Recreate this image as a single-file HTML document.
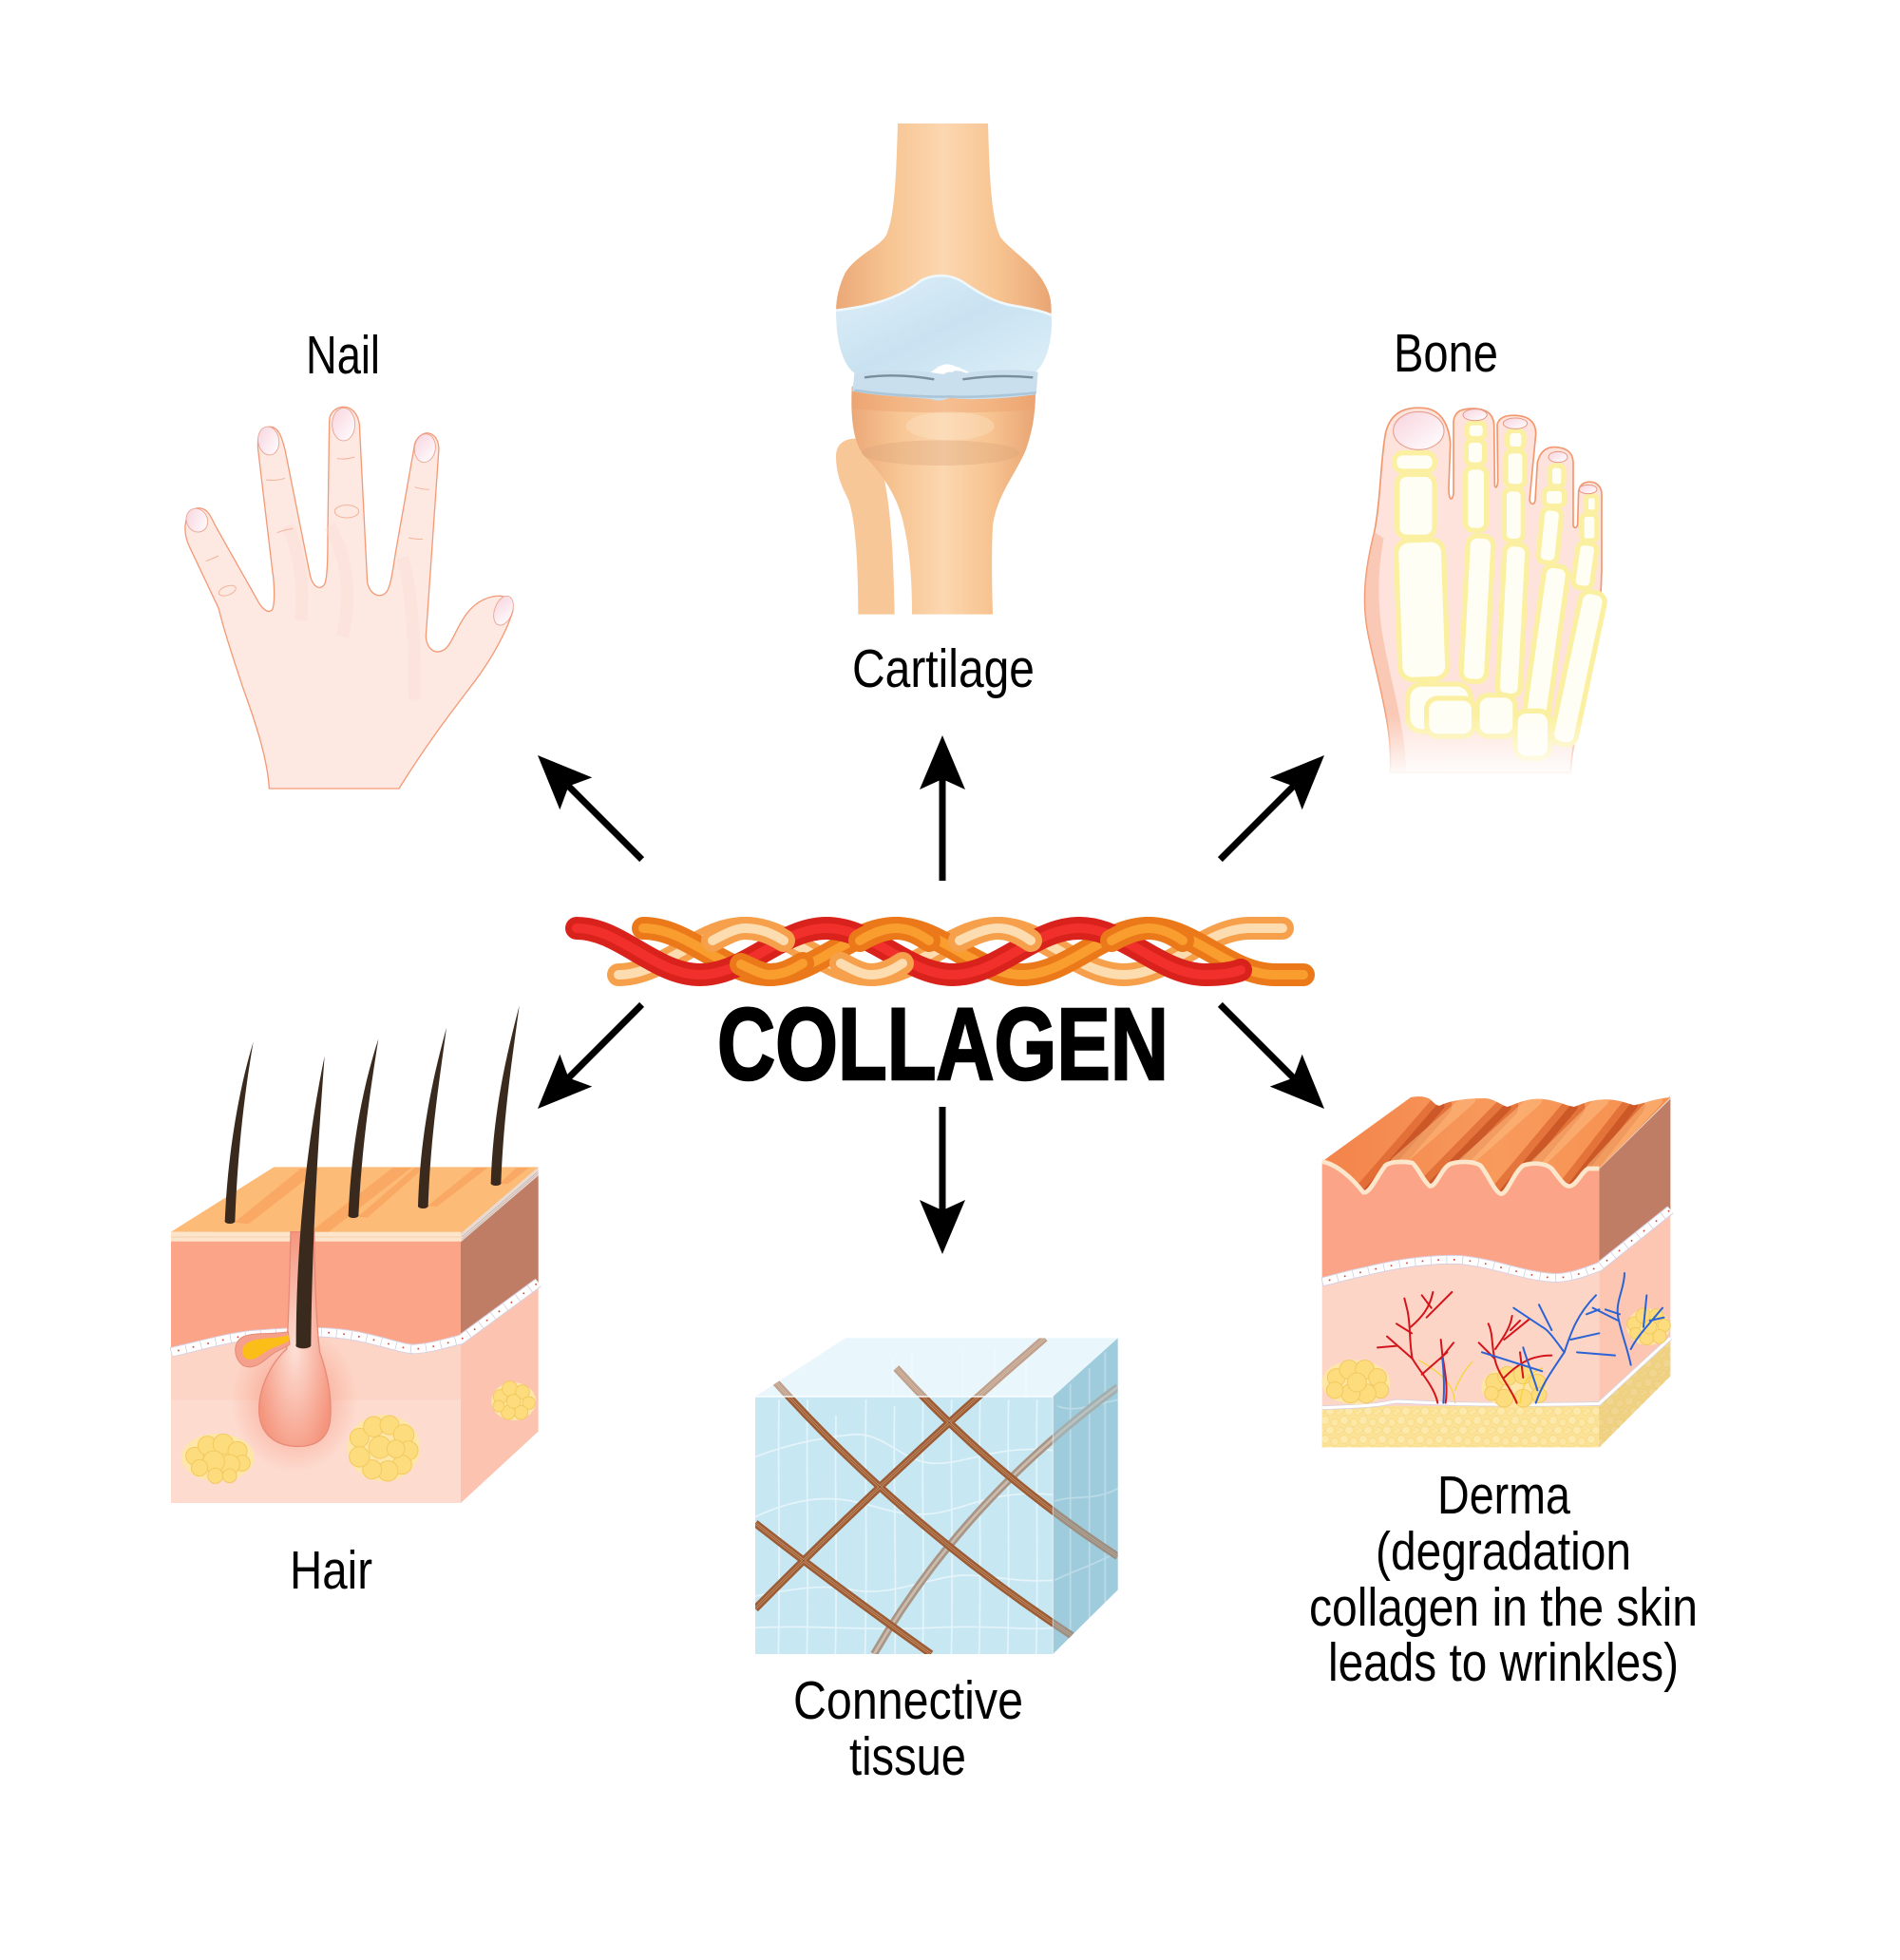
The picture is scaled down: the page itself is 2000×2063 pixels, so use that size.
<!DOCTYPE html>
<html><head><meta charset="utf-8"><style>
html,body{margin:0;padding:0;background:#fff;}
svg{display:block;}
.lbl{font-family:"Liberation Sans Narrow","Liberation Sans",sans-serif;font-size:57px;fill:#000;}
</style></head><body>
<svg width="2000" height="2063" viewBox="0 0 2000 2063" xmlns="http://www.w3.org/2000/svg">
<defs>
<linearGradient id="nailG" x1="0" y1="0" x2="1" y2="1"><stop offset="0" stop-color="#f8d3de"/><stop offset="1" stop-color="#ffffff"/></linearGradient>
<linearGradient id="boneH" x1="0" y1="0" x2="1" y2="0"><stop offset="0" stop-color="#eba877"/><stop offset="0.25" stop-color="#f7c593"/><stop offset="0.5" stop-color="#fcd7b0"/><stop offset="0.75" stop-color="#f7c491"/><stop offset="1" stop-color="#e9a574"/></linearGradient>
<linearGradient id="cartG" x1="0" y1="0" x2="1" y2="1"><stop offset="0" stop-color="#dff0f9"/><stop offset="0.5" stop-color="#c9e2f1"/><stop offset="1" stop-color="#dcefF8"/></linearGradient>
<linearGradient id="footFade" x1="0" y1="0" x2="0" y2="1"><stop offset="0" stop-color="#fff" stop-opacity="0"/><stop offset="1" stop-color="#fff" stop-opacity="1"/></linearGradient>
<radialGradient id="glow" cx="0.5" cy="0.5" r="0.5"><stop offset="0" stop-color="#f26a4f" stop-opacity="0.55"/><stop offset="1" stop-color="#f26a4f" stop-opacity="0"/></radialGradient>
<radialGradient id="bulbG" cx="0.5" cy="0.55" r="0.55"><stop offset="0" stop-color="#fde0d6"/><stop offset="1" stop-color="#f5957d"/></radialGradient>
<linearGradient id="dermTop" x1="0" y1="0" x2="1" y2="0"><stop offset="0" stop-color="#f3834a"/><stop offset="0.5" stop-color="#f89a5c"/><stop offset="1" stop-color="#f6904f"/></linearGradient>
<pattern id="fatp" width="60" height="60" patternUnits="userSpaceOnUse">
<rect width="60" height="60" fill="#fbe296"/>
<circle cx="15" cy="15" r="13" fill="#fde9ab" stroke="#f3d274" stroke-width="1.5"/>
<circle cx="45" cy="22" r="12" fill="#fde7a4" stroke="#f3d274" stroke-width="1.5"/>
<circle cx="30" cy="46" r="13" fill="#fde9ab" stroke="#f3d274" stroke-width="1.5"/>
<circle cx="4" cy="46" r="8" fill="#fde7a4" stroke="#f3d274" stroke-width="1.5"/>
<circle cx="56" cy="52" r="7" fill="#fde7a4" stroke="#f3d274" stroke-width="1.5"/>
</pattern>
<clipPath id="cubeClip"><polygon points="45,270 330,85 1190,85 1190,880 985,1083 45,1083"/></clipPath>
<clipPath id="dtopClip"><path d="M65,278 C110,285 160,330 195,375 C215,380 235,330 265,290 C280,278 320,276 350,282 C370,300 385,340 405,355 C425,360 440,300 470,285 C500,276 540,276 565,290 C590,320 610,375 630,380 C650,380 665,320 700,290 C730,280 770,282 790,300 C815,330 830,360 850,355 C870,350 885,310 905,300 L940,300 L1165,75 C1120,78 1080,95 1050,100 C1030,95 1000,80 950,82 C900,85 880,100 860,105 C830,100 800,82 750,80 C700,80 670,100 650,105 C630,100 610,80 580,78 C520,78 470,85 440,100 C430,105 420,95 405,80 C390,72 370,70 345,75 Z"/></clipPath>
</defs>
<rect width="2000" height="2063" fill="#fff"/>

<!-- ===== HAND ===== -->
<g transform="translate(160,320) scale(0.33333)">
<path d="M370,1530 C365,1440 330,1330 290,1220 C260,1130 230,1040 210,960 L120,770 C95,720 100,660 140,645 C175,640 185,670 200,700 L330,930 C345,960 365,980 380,965 C390,940 385,870 380,840 L335,460 C330,410 350,385 375,388 C400,390 410,420 420,460 L500,860 C510,895 530,905 545,885 C555,860 555,790 555,720 L560,370 C560,340 585,325 605,325 C630,325 650,345 655,380 L680,880 C690,920 720,930 740,910 C755,890 760,840 770,780 L830,440 C840,415 860,405 875,408 C900,415 908,440 905,470 L865,1050 C868,1090 895,1110 925,1090 C950,1070 965,1010 1000,970 C1030,935 1070,920 1100,922 C1130,925 1145,950 1138,975 C1120,1030 1080,1110 1020,1190 C960,1270 880,1370 780,1530 Z" fill="#fde9e2" stroke="#f49a77" stroke-width="4"/>
<path d="M560,700 C600,760 640,900 600,1050 M430,700 C470,800 480,900 470,1000 M790,800 C820,900 830,1050 830,1250" stroke="#fbdcd0" stroke-width="40" fill="none" opacity="0.3"/>
<g stroke="#f2b39a" stroke-width="3" fill="none">
<path d="M360,555 Q390,560 420,550 M395,722 Q420,712 445,710 M585,488 Q612,492 640,483 M830,578 Q852,585 875,586 M810,738 Q832,744 855,742 M170,812 Q190,805 210,795"/>
<ellipse cx="615" cy="655" rx="38" ry="20"/>
<ellipse cx="238" cy="905" rx="28" ry="14" transform="rotate(-20 238 905)"/>
</g>
<g fill="url(#nailG)" stroke="#e8a08b" stroke-width="2.5">
<ellipse cx="142" cy="683" rx="33" ry="38" transform="rotate(-25 142 683)"/>
<ellipse cx="368" cy="432" rx="33" ry="45" transform="rotate(-8 368 432)"/>
<ellipse cx="605" cy="380" rx="36" ry="52"/>
<ellipse cx="862" cy="455" rx="33" ry="45" transform="rotate(8 862 455)"/>
<ellipse cx="1110" cy="968" rx="28" ry="48" transform="rotate(20 1110 968)"/>
</g>
</g>

<!-- ===== KNEE ===== -->
<g transform="translate(860,120) scale(0.33333)">
<path d="M60,1080 C60,1040 90,1025 120,1025 C160,1025 190,1060 200,1100 C215,1160 240,1250 245,1580 L130,1580 C130,1400 120,1280 100,1220 C80,1180 60,1140 60,1080 Z" fill="#f8c798"/>
<path d="M255,30 L540,30 C545,200 550,330 580,390 C620,440 700,480 730,560 C745,600 740,640 735,660 L65,660 C55,620 60,560 90,500 C130,440 200,420 220,380 C245,320 250,200 255,30 Z" fill="url(#boneH)"/>
<path d="M110,860 C250,880 380,895 420,885 C470,895 600,880 690,870 C690,950 680,1000 660,1060 C620,1150 570,1200 555,1300 C550,1400 553,1500 555,1580 L300,1580 C300,1480 295,1380 270,1280 C250,1200 200,1130 150,1080 C115,1040 105,960 110,860 Z" fill="url(#boneH)"/>
<path d="M112,870 C250,890 560,895 690,880 L688,930 C560,950 250,945 112,930 Z" fill="#eea26e" opacity="0.45"/>
<ellipse cx="390" cy="1070" rx="250" ry="40" fill="#d9a478" opacity="0.35"/>
<ellipse cx="420" cy="985" rx="140" ry="45" fill="#fde6c8" opacity="0.35"/>
<path d="M60,620 C150,610 250,590 330,525 C370,505 420,505 460,530 C520,570 560,595 620,605 C680,615 720,625 740,635 C745,700 730,780 690,815 C640,850 520,840 470,810 C440,795 420,790 410,790 C395,790 380,800 360,815 C320,845 180,850 120,820 C80,790 60,720 60,620 Z" fill="url(#cartG)"/>
<path d="M60,620 C150,610 250,590 330,525 C370,505 420,505 460,530 C520,570 560,595 620,605 C680,615 720,625 740,635" stroke="#eef8fd" stroke-width="8" fill="none"/>
<path d="M118,820 C200,805 300,805 400,822 C420,808 450,808 470,818 C560,805 650,805 698,815 L692,885 C600,900 460,905 420,895 C400,905 380,908 360,900 C260,892 170,888 112,875 Z" fill="#cadfee"/>
<path d="M150,832 C220,822 300,826 370,838 M460,838 C540,826 620,826 682,832" stroke="#5e7180" stroke-width="7" fill="none" opacity="0.75"/>
<path d="M118,872 C220,888 360,895 420,892 C470,896 600,890 692,880" stroke="#9fbad0" stroke-width="8" fill="none" opacity="0.7"/>
<path d="M380,800 C395,790 425,790 440,800 L430,815 L390,815 Z" fill="#fff"/>
</g>

<!-- ===== FOOT ===== -->
<g transform="translate(1400,400) scale(0.33333)">
<path d="M190,1240 C200,1100 150,950 120,800 C100,700 110,600 140,480 C160,380 160,250 175,170 C190,100 240,85 290,88 C350,90 375,140 380,200 L375,340 C375,380 385,385 390,360 L390,130 C395,95 420,90 455,90 C500,92 515,110 518,140 L520,330 C522,345 528,340 530,320 L528,140 C535,115 560,110 590,112 C630,115 650,135 650,170 L630,380 C635,395 645,395 648,380 L655,260 C665,220 690,210 715,212 C755,215 770,235 768,270 L768,460 C772,470 780,468 782,455 L785,350 C790,325 810,320 825,322 C850,325 860,345 858,370 L858,600 C855,750 830,900 790,1050 C770,1150 760,1200 760,1240 Z" fill="#fde3db" stroke="#f3976f" stroke-width="5"/>
<path d="M140,480 C110,600 100,700 120,800 C150,950 200,1100 190,1240 L240,1240 C240,1100 190,950 165,800 C150,700 150,600 170,500 Z" fill="#f8b79d" opacity="0.6"/>
<g fill="#fffef4" stroke="#fbf0a2" stroke-width="16">
<rect x="203" y="230" width="128" height="58" rx="26"/>
<rect x="212" y="298" width="118" height="198" rx="30"/>
<rect x="215" y="505" width="150" height="440" rx="40" transform="rotate(-2 290 725)"/>
<rect x="432" y="135" width="58" height="50" rx="18"/>
<rect x="430" y="190" width="58" height="78" rx="20"/>
<rect x="428" y="275" width="66" height="200" rx="24"/>
<rect x="425" y="492" width="80" height="460" rx="30" transform="rotate(3 465 720)"/>
<rect x="560" y="160" width="52" height="58" rx="18"/>
<rect x="555" y="224" width="60" height="112" rx="20"/>
<rect x="550" y="344" width="60" height="165" rx="22"/>
<rect x="540" y="518" width="72" height="480" rx="28" transform="rotate(3 576 760)"/>
<rect x="694" y="270" width="44" height="66" rx="16"/>
<rect x="676" y="343" width="64" height="55" rx="18"/>
<rect x="664" y="405" width="60" height="172" rx="22" transform="rotate(6 694 490)"/>
<rect x="645" y="585" width="76" height="490" rx="28" transform="rotate(8 683 830)"/>
<rect x="808" y="365" width="36" height="52" rx="14"/>
<rect x="795" y="424" width="48" height="84" rx="16"/>
<rect x="775" y="515" width="60" height="142" rx="20" transform="rotate(8 805 585)"/>
<rect x="745" y="665" width="78" height="490" rx="30" transform="rotate(12 784 910)"/>
<rect x="245" y="960" width="200" height="150" rx="45"/>
<rect x="305" y="1005" width="150" height="120" rx="35"/>
<rect x="465" y="995" width="120" height="130" rx="35"/>
<rect x="585" y="1045" width="110" height="150" rx="35"/>
</g>
<g fill="url(#nailG)" stroke="#e59a86" stroke-width="3">
<ellipse cx="280" cy="160" rx="80" ry="60"/>
<ellipse cx="458" cy="110" rx="38" ry="18"/>
<ellipse cx="585" cy="137" rx="38" ry="17"/>
<ellipse cx="720" cy="243" rx="30" ry="17"/>
<ellipse cx="815" cy="345" rx="28" ry="14"/>
</g>
<rect x="80" y="1060" width="820" height="200" fill="url(#footFade)"/>
</g>

<!-- ===== HAIR BLOCK ===== -->
<g transform="translate(170,1040) scale(0.33333)">
<rect x="30" y="800" width="915" height="826" fill="#fdd5c6"/>
<rect x="30" y="1300" width="915" height="326" fill="#fde0d5" opacity="0.6"/>
<ellipse cx="420" cy="1300" rx="200" ry="230" fill="url(#glow)"/>
<path d="M30,800 L945,800 L945,1110 C900,1120 860,1135 800,1140 C760,1140 700,1115 620,1100 C520,1080 420,1085 300,1095 C220,1100 120,1130 30,1150 Z" fill="#fca487"/>
<polygon points="945,775 1190,565 1190,1400 945,1626" fill="#fcc4b0"/>
<polygon points="945,800 1190,590 1190,930 945,1110" fill="#bf7d66"/>
<polygon points="945,775 1190,565 1190,592 945,802" fill="#e9dbd4"/>
<path d="M950,785 L1188,580 M950,793 L1188,587" stroke="#bdb0a8" stroke-width="2"/>
<polygon points="30,770 355,565 1190,565 945,775" fill="#fdbb78"/>
<g fill="#f8a35d" opacity="0.75">
<polygon points="230,740 440,570 500,570 275,745"/>
<polygon points="470,770 730,567 790,567 525,772"/>
<polygon points="620,722 800,567 830,567 650,725"/>
<polygon points="840,688 990,567 1030,567 870,690"/>
<polygon points="1065,620 1120,567 1160,567 1095,618"/>
</g>
<rect x="30" y="770" width="915" height="30" fill="#fde5cb"/>
<line x1="30" y1="786" x2="945" y2="786" stroke="#f4c9a6" stroke-width="2"/>
<g fill="none">
<path d="M30,1150 C120,1130 220,1100 300,1095 C420,1085 520,1080 620,1100 C700,1115 760,1140 800,1140 C860,1135 900,1120 945,1110 L1190,930" stroke="#d8cfe0" stroke-width="32"/>
<path d="M30,1150 C120,1130 220,1100 300,1095 C420,1085 520,1080 620,1100 C700,1115 760,1140 800,1140 C860,1135 900,1120 945,1110 L1190,930" stroke="#ffffff" stroke-width="26"/>
<path d="M30,1150 C120,1130 220,1100 300,1095 C420,1085 520,1080 620,1100 C700,1115 760,1140 800,1140 C860,1135 900,1120 945,1110 L1190,930" stroke="#c9c4d2" stroke-width="26" stroke-dasharray="2 46"/>
<path d="M30,1150 C120,1130 220,1100 300,1095 C420,1085 520,1080 620,1100 C700,1115 760,1140 800,1140 C860,1135 900,1120 945,1110 L1190,930" stroke="#d9473f" stroke-width="5" stroke-dasharray="5 43" stroke-dashoffset="-22"/>
</g>
<path d="M408,770 L482,770 C484,900 488,1060 500,1150 C525,1220 540,1300 532,1370 C522,1435 470,1450 420,1447 C355,1443 310,1405 308,1335 C306,1260 350,1180 395,1140 C402,1050 405,900 408,770 Z" fill="url(#bulbG)" stroke="#e98a78" stroke-width="4"/>
<path d="M400,1085 C360,1095 300,1085 260,1100 C225,1115 225,1165 255,1190 C290,1210 320,1180 345,1160 C370,1140 395,1135 405,1125 Z" fill="#f4a08c" stroke="#e58b77" stroke-width="3"/>
<path d="M402,1095 C360,1110 310,1100 272,1120 C247,1135 252,1165 272,1172 C297,1178 322,1150 347,1138 C372,1128 397,1120 404,1112 Z" fill="#fbbd18"/>
<path d="M200,738 C210,500 250,300 290,170 C262,330 240,520 232,738 Z" fill="#3a2a1e"/>
<path d="M590,720 C600,480 640,300 685,160 C660,320 632,500 622,720 Z" fill="#3a2a1e"/>
<path d="M810,690 C818,450 858,280 900,125 C878,290 850,460 842,690 Z" fill="#3a2a1e"/>
<path d="M1040,618 C1048,380 1090,210 1130,55 C1108,220 1080,400 1072,618 Z" fill="#3a2a1e"/>
<path d="M425,1130 C425,800 460,480 515,215 C495,480 475,800 472,1130 Z" fill="#3a2a1e"/>
<g fill="#3a2a1e"><ellipse cx="216" cy="736" rx="16" ry="8"/><ellipse cx="606" cy="718" rx="16" ry="8"/><ellipse cx="826" cy="688" rx="16" ry="8"/><ellipse cx="1056" cy="616" rx="16" ry="8"/><ellipse cx="448" cy="1128" rx="24" ry="10"/></g>
<g fill="#fde6a8"><ellipse cx="178" cy="1482" rx="115" ry="75"/><ellipse cx="702" cy="1452" rx="115" ry="105"/><ellipse cx="1112" cy="1305" rx="70" ry="60"/></g>
<g fill="#fddc7e" stroke="#f3c95e" stroke-width="3">
<circle cx="105" cy="1478" r="28"/><circle cx="145" cy="1445" r="30"/><circle cx="195" cy="1440" r="32"/><circle cx="240" cy="1462" r="30"/><circle cx="255" cy="1500" r="25"/><circle cx="215" cy="1505" r="32"/><circle cx="165" cy="1495" r="34"/><circle cx="120" cy="1515" r="26"/><circle cx="170" cy="1540" r="24"/><circle cx="215" cy="1540" r="22"/>
<circle cx="625" cy="1420" r="30"/><circle cx="670" cy="1385" r="32"/><circle cx="720" cy="1380" r="30"/><circle cx="765" cy="1410" r="32"/><circle cx="780" cy="1460" r="30"/><circle cx="760" cy="1505" r="30"/><circle cx="715" cy="1525" r="32"/><circle cx="665" cy="1520" r="30"/><circle cx="625" cy="1480" r="32"/><circle cx="690" cy="1450" r="35"/><circle cx="740" cy="1455" r="28"/>
<circle cx="1070" cy="1290" r="22"/><circle cx="1100" cy="1265" r="24"/><circle cx="1140" cy="1275" r="22"/><circle cx="1160" cy="1310" r="20"/><circle cx="1135" cy="1340" r="22"/><circle cx="1095" cy="1340" r="22"/><circle cx="1065" cy="1320" r="18"/><circle cx="1112" cy="1305" r="22"/>
</g>
</g>

<!-- ===== CONNECTIVE TISSUE CUBE ===== -->
<g transform="translate(780,1380) scale(0.33333)">
<rect x="45" y="270" width="940" height="813" fill="#c7e7f3"/>
<polygon points="985,270 1190,85 1190,880 985,1083" fill="#9fcddd"/>
<polygon points="45,270 330,85 1190,85 985,270" fill="#e8f6fb"/>
<g fill="none" stroke="#ffffff" stroke-width="5" opacity="0.55">
<path d="M120,280 C115,500 125,700 118,1083 M210,280 C205,500 215,800 208,1083 M300,330 C295,550 305,800 298,1083 M395,280 C390,500 400,750 392,1083 M485,300 C480,520 492,800 486,1083 M575,280 C570,550 580,800 574,1083 M665,280 C660,500 672,800 664,1083 M755,280 C750,500 760,800 752,1083 M845,280 C840,500 850,800 842,1083 M935,280 C930,520 940,800 932,1083"/>
<path d="M45,460 C150,420 250,400 350,390 C450,380 500,470 600,480 C700,490 800,420 985,440 M45,650 C150,600 250,580 350,600 C450,620 500,650 600,640 C700,630 800,560 985,580 M45,900 C150,880 250,860 350,880 C450,900 550,860 650,840 C750,820 850,860 985,850 M45,1000 C200,990 400,1010 600,1000 C800,990 900,1010 985,1000"/>
<path d="M1000,300 C1050,320 1100,300 1190,280 M990,600 C1050,580 1120,600 1190,560 M990,850 C1050,820 1120,800 1190,760 M1040,230 L1040,1030 M1100,180 L1100,970 M1150,130 L1150,920 M480,150 L480,270 M540,130 L540,270 M700,120 L700,270 M800,120 L800,270 M900,110 L900,270"/>
</g>
<g clip-path="url(#cubeClip)" fill="none">
<g stroke="#a89585" stroke-width="24"><path d="M1190,240 Q700,600 420,1083"/></g>
<g stroke="#cbbcae" stroke-width="8"><path d="M1190,240 Q700,600 420,1083"/></g>
<g stroke="#9c5c36" stroke-width="24">
<path d="M110,225 Q520,680 1045,1025"/>
<path d="M960,85 Q500,480 45,940"/>
<path d="M490,180 Q800,520 1190,775"/>
<path d="M45,670 Q300,870 600,1083"/>
</g>
<g stroke="#c98c60" stroke-width="8">
<path d="M110,225 Q520,680 1045,1025"/>
<path d="M960,85 Q500,480 45,940"/>
<path d="M490,180 Q800,520 1190,775"/>
<path d="M45,670 Q300,870 600,1083"/>
</g>
<g stroke="#7a4326" stroke-width="2">
<path d="M110,225 Q520,680 1045,1025"/>
<path d="M960,85 Q500,480 45,940"/>
<path d="M490,180 Q800,520 1190,775"/>
<path d="M45,670 Q300,870 600,1083"/>
</g>
</g>
<polygon points="985,270 1190,85 1190,880 985,1083" fill="#9fcddd" opacity="0.45"/>
<polygon points="45,270 330,85 1190,85 985,270" fill="#eaf6fb" opacity="0.45"/>
<line x1="45" y1="270" x2="985" y2="270" stroke="#ffffff" stroke-width="5" opacity="0.8"/>
<line x1="985" y1="270" x2="985" y2="1083" stroke="#ffffff" stroke-width="3" opacity="0.6"/>
</g>

<!-- ===== DERMA BLOCK ===== -->
<g transform="translate(1370,1130) scale(0.33333)">
<rect x="65" y="280" width="875" height="900" fill="#fdd5c7"/>
<rect x="65" y="1050" width="875" height="130" fill="url(#fatp)"/>
<polygon points="940,300 1165,75 1165,955 940,1180" fill="#fcc6b2"/>
<polygon points="940,1045 1165,835 1165,955 940,1180" fill="url(#fatp)"/>
<polygon points="940,1045 1165,835 1165,955 940,1180" fill="#d9b460" opacity="0.35"/>
<polygon points="940,300 1165,75 1165,430 940,610" fill="#bf7d66"/>
<path d="M65,278 C110,285 160,330 195,375 C215,380 235,330 265,290 C280,278 320,276 350,282 C370,300 385,340 405,355 C425,360 440,300 470,285 C500,276 540,276 565,290 C590,320 610,375 630,380 C650,380 665,320 700,290 C730,280 770,282 790,300 C815,330 830,360 850,355 C870,350 885,310 905,300 L940,300 L940,610 C900,625 850,645 800,645 C700,640 620,600 500,588 C400,585 300,600 200,625 C150,635 100,650 65,658 Z" fill="#fca487"/>
<g fill="none">
<path d="M65,658 C100,650 150,635 200,625 C300,600 400,585 500,588 C620,600 700,640 800,645 C850,645 900,625 940,610 L1165,430" stroke="#d8cfe0" stroke-width="30"/>
<path d="M65,658 C100,650 150,635 200,625 C300,600 400,585 500,588 C620,600 700,640 800,645 C850,645 900,625 940,610 L1165,430" stroke="#fff" stroke-width="24"/>
<path d="M65,658 C100,650 150,635 200,625 C300,600 400,585 500,588 C620,600 700,640 800,645 C850,645 900,625 940,610 L1165,430" stroke="#c9c4d2" stroke-width="24" stroke-dasharray="2 48"/>
<path d="M65,658 C100,650 150,635 200,625 C300,600 400,585 500,588 C620,600 700,640 800,645 C850,645 900,625 940,610 L1165,430" stroke="#d9473f" stroke-width="5" stroke-dasharray="5 45" stroke-dashoffset="-22"/>
<path d="M65,1055 C150,1052 230,1050 280,1038 L300,1035 C400,1040 600,1050 940,1042 L1165,835" stroke="#d8d2de" stroke-width="14"/>
<path d="M65,1055 C150,1052 230,1050 280,1038 L300,1035 C400,1040 600,1050 940,1042 L1165,835" stroke="#fff" stroke-width="9"/>
</g>
<g fill="#fde6a8"><ellipse cx="172" cy="975" rx="108" ry="70"/><ellipse cx="672" cy="990" rx="104" ry="64"/><ellipse cx="1095" cy="800" rx="68" ry="58"/></g>
<g fill="#fddc7e" stroke="#f3c95e" stroke-width="3">
<circle cx="110" cy="960" r="28"/><circle cx="150" cy="935" r="30"/><circle cx="200" cy="935" r="30"/><circle cx="240" cy="960" r="28"/><circle cx="250" cy="1000" r="25"/><circle cx="205" cy="1010" r="30"/><circle cx="155" cy="1010" r="30"/><circle cx="105" cy="1000" r="26"/><circle cx="175" cy="975" r="30"/>
<circle cx="610" cy="975" r="28"/><circle cx="650" cy="955" r="30"/><circle cx="700" cy="950" r="30"/><circle cx="745" cy="975" r="26"/><circle cx="750" cy="1015" r="24"/><circle cx="700" cy="1025" r="28"/><circle cx="640" cy="1025" r="28"/><circle cx="600" cy="1010" r="22"/>
<circle cx="1050" cy="790" r="22"/><circle cx="1080" cy="765" r="24"/><circle cx="1120" cy="765" r="22"/><circle cx="1145" cy="795" r="20"/><circle cx="1130" cy="830" r="22"/><circle cx="1090" cy="835" r="22"/><circle cx="1055" cy="820" r="18"/><circle cx="1100" cy="800" r="22"/>
</g>
<g fill="none" stroke-linecap="round">
<g stroke="#f4d53a" stroke-width="4">
<path d="M485,1040 C480,1000 470,960 370,905 M485,1000 C500,960 520,930 540,910 M690,1040 C700,980 710,950 760,930"/>
</g>
<g stroke="#d4141b" stroke-width="6">
<path d="M430,1040 C420,990 380,950 350,900 C340,850 345,800 335,750 L325,710"/>
<path d="M350,900 L270,830 M300,860 L240,865 M348,820 L300,790 M345,800 C380,770 405,740 415,690 M395,770 L475,690 M410,740 L380,700 M380,950 L460,880 M440,900 L480,850"/>
<path d="M455,1040 C462,990 455,950 445,890 L440,840"/>
<path d="M680,1040 C660,990 620,950 610,900 C600,860 605,820 590,790 M610,900 L560,850 M612,870 C640,830 660,800 665,765 M640,840 L720,775 M640,960 C680,920 720,890 790,890 M700,960 L690,880 M660,810 L690,780"/>
</g>
<g stroke="#2a63d6" stroke-width="6">
<path d="M740,1040 C760,980 790,940 830,880 C850,820 870,760 930,700"/>
<path d="M830,880 C800,840 780,810 760,800 C730,780 700,760 670,740 M790,810 L750,730 M850,840 L940,820 M870,880 L990,890 M745,1000 C730,950 710,900 700,865 M760,940 L570,880 M900,760 L940,745"/>
<path d="M1040,920 C1030,870 1010,820 1000,770 C990,720 1020,680 1020,630 M1000,780 L920,740 M1005,760 L960,745 M1040,870 C1060,830 1090,800 1140,740 M1080,800 L1090,700 M1100,780 L1145,770"/>
<path d="M448,1040 C452,990 450,950 445,900"/>
</g>
</g>
<polygon points="940,290 1165,68 1165,80 940,302" fill="#e9dbd2"/>
<path d="M65,278 C110,285 160,330 195,375 C215,380 235,330 265,290 C280,278 320,276 350,282 C370,300 385,340 405,355 C425,360 440,300 470,285 C500,276 540,276 565,290 C590,320 610,375 630,380 C650,380 665,320 700,290 C730,280 770,282 790,300 C815,330 830,360 850,355 C870,350 885,310 905,300 L940,300 L1165,75 C1120,78 1080,95 1050,100 C1030,95 1000,80 950,82 C900,85 880,100 860,105 C830,100 800,82 750,80 C700,80 670,100 650,105 C630,100 610,80 580,78 C520,78 470,85 440,100 C430,105 420,95 405,80 C390,72 370,70 345,75 Z" fill="url(#dermTop)"/>
<g clip-path="url(#dtopClip)" fill="none" stroke-linecap="round">
<g stroke="#d0521e" stroke-width="70" opacity="0.5">
<path d="M200,378 L440,102 M405,356 L650,106 M630,380 L860,106 M850,356 L1050,100"/>
</g>
<g stroke="#b9411a" stroke-width="24" opacity="0.55">
<path d="M205,375 L440,102 M410,352 L650,106 M635,376 L860,106 M855,352 L1050,100"/>
</g>
<g stroke="#fdbb80" stroke-width="40" opacity="0.55">
<path d="M300,282 L530,80 M515,282 L740,82 M745,285 L950,84 M920,300 L1120,84"/>
</g>
</g>
<path d="M65,278 C110,285 160,330 195,375 C215,380 235,330 265,290 C280,278 320,276 350,282 C370,300 385,340 405,355 C425,360 440,300 470,285 C500,276 540,276 565,290 C590,320 610,375 630,380 C650,380 665,320 700,290 C730,280 770,282 790,300 C815,330 830,360 850,355 C870,350 885,310 905,300 L940,300" fill="none" stroke="#fde7cc" stroke-width="14"/>
</g>

<!-- ===== COLLAGEN BRAID ===== -->
<g fill="none" stroke-linecap="round">
<path d="M651,1026 C699,1026 736,977 784,977 C832,977 869,1026 917,1026 C965,1026 1002,977 1050,977 C1098,977 1135,1026 1183,1026 C1231,1026 1268,977 1316,977 L1350,977" stroke="#f6a04c" stroke-width="24"/>
<path d="M651,1026 C699,1026 736,977 784,977 C832,977 869,1026 917,1026 C965,1026 1002,977 1050,977 C1098,977 1135,1026 1183,1026 C1231,1026 1268,977 1316,977 L1350,977" stroke="#fddcb0" stroke-width="10"/>
<path d="M677,977 C725,977 762,1026 810,1026 C858,1026 895,977 943,977 C991,977 1028,1026 1076,1026 C1124,1026 1161,977 1209,977 C1257,977 1294,1026 1342,1026 L1372,1026" stroke="#eb7819" stroke-width="24"/>
<path d="M677,977 C725,977 762,1026 810,1026 C858,1026 895,977 943,977 C991,977 1028,1026 1076,1026 C1124,1026 1161,977 1209,977 C1257,977 1294,1026 1342,1026 L1372,1026" stroke="#f99d2e" stroke-width="10"/>
<path d="M607,977 C653,977 689,1026 737,1026 C785,1026 822,977 870,977 C918,977 955,1026 1003,1026 C1051,1026 1088,977 1136,977 C1184,977 1221,1026 1269,1026 C1288,1026 1298,1024 1306,1021" stroke="#d9221c" stroke-width="24"/>
<path d="M607,977 C653,977 689,1026 737,1026 C785,1026 822,977 870,977 C918,977 955,1026 1003,1026 C1051,1026 1088,977 1136,977 C1184,977 1221,1026 1269,1026 C1288,1026 1298,1024 1306,1021" stroke="#f2302b" stroke-width="10"/>
<!-- weave overlays -->
<path d="M750,990 C765,982 775,977 784,977 C800,977 812,982 825,990" stroke="#f6a04c" stroke-width="24"/>
<path d="M750,990 C765,982 775,977 784,977 C800,977 812,982 825,990" stroke="#fddcb0" stroke-width="10"/>
<path d="M1010,990 C1028,981 1040,977 1050,977 C1062,977 1072,981 1085,990" stroke="#f6a04c" stroke-width="24"/>
<path d="M1010,990 C1028,981 1040,977 1050,977 C1062,977 1072,981 1085,990" stroke="#fddcb0" stroke-width="10"/>
<path d="M905,990 C920,981 932,977 943,977 C955,977 965,981 978,990" stroke="#eb7819" stroke-width="24"/>
<path d="M905,990 C920,981 932,977 943,977 C955,977 965,981 978,990" stroke="#f99d2e" stroke-width="10"/>
<path d="M1170,990 C1186,981 1198,977 1209,977 C1221,977 1232,981 1245,990" stroke="#eb7819" stroke-width="24"/>
<path d="M1170,990 C1186,981 1198,977 1209,977 C1221,977 1232,981 1245,990" stroke="#f99d2e" stroke-width="10"/>
<path d="M780,1015 C795,1022 803,1026 810,1026 C822,1026 832,1022 845,1014" stroke="#eb7819" stroke-width="24"/>
<path d="M780,1015 C795,1022 803,1026 810,1026 C822,1026 832,1022 845,1014" stroke="#f99d2e" stroke-width="10"/>
<path d="M885,1014 C900,1022 908,1026 917,1026 C928,1026 938,1022 950,1014" stroke="#f6a04c" stroke-width="24"/>
<path d="M885,1014 C900,1022 908,1026 917,1026 C928,1026 938,1022 950,1014" stroke="#fddcb0" stroke-width="10"/>
</g>

<!-- ===== ARROWS ===== -->
<g fill="#000" stroke="none">
<g transform="translate(992,774)"><rect x="-3.5" y="40" width="7" height="113"/><polygon points="0,0 -24,57 0,46 24,57"/></g>
<g transform="translate(992,1320) rotate(180)"><rect x="-3.5" y="40" width="7" height="115"/><polygon points="0,0 -24,57 0,46 24,57"/></g>
<g transform="translate(566,795) rotate(-45)"><rect x="-3.5" y="40" width="7" height="115"/><polygon points="0,0 -24,57 0,46 24,57"/></g>
<g transform="translate(1394,795) rotate(45)"><rect x="-3.5" y="40" width="7" height="115"/><polygon points="0,0 -24,57 0,46 24,57"/></g>
<g transform="translate(566,1167) rotate(-135)"><rect x="-3.5" y="40" width="7" height="115"/><polygon points="0,0 -24,57 0,46 24,57"/></g>
<g transform="translate(1394,1167) rotate(135)"><rect x="-3.5" y="40" width="7" height="115"/><polygon points="0,0 -24,57 0,46 24,57"/></g>
</g>

<!-- ===== TEXT ===== -->
<text x="755" y="1136" textLength="475" lengthAdjust="spacingAndGlyphs" style="font-family:'Liberation Sans','Liberation Sans Narrow',sans-serif;font-weight:bold;font-size:108px;" fill="#000" stroke="#000" stroke-width="2.5">COLLAGEN</text>
<text class="lbl" x="322" y="393" textLength="78" lengthAdjust="spacingAndGlyphs">Nail</text>
<text class="lbl" x="897" y="723" textLength="192" lengthAdjust="spacingAndGlyphs">Cartilage</text>
<text class="lbl" x="1467" y="391" textLength="110" lengthAdjust="spacingAndGlyphs">Bone</text>
<text class="lbl" x="305" y="1672" textLength="87" lengthAdjust="spacingAndGlyphs">Hair</text>
<text class="lbl" x="835" y="1809" textLength="242" lengthAdjust="spacingAndGlyphs">Connective</text>
<text class="lbl" x="894" y="1868" textLength="123" lengthAdjust="spacingAndGlyphs">tissue</text>
<text class="lbl" x="1513" y="1593" textLength="140" lengthAdjust="spacingAndGlyphs">Derma</text>
<text class="lbl" x="1448" y="1652" textLength="269" lengthAdjust="spacingAndGlyphs">(degradation</text>
<text class="lbl" x="1378" y="1711" textLength="409" lengthAdjust="spacingAndGlyphs">collagen in the skin</text>
<text class="lbl" x="1398" y="1769" textLength="369" lengthAdjust="spacingAndGlyphs">leads to wrinkles)</text>
</svg>
</body></html>
